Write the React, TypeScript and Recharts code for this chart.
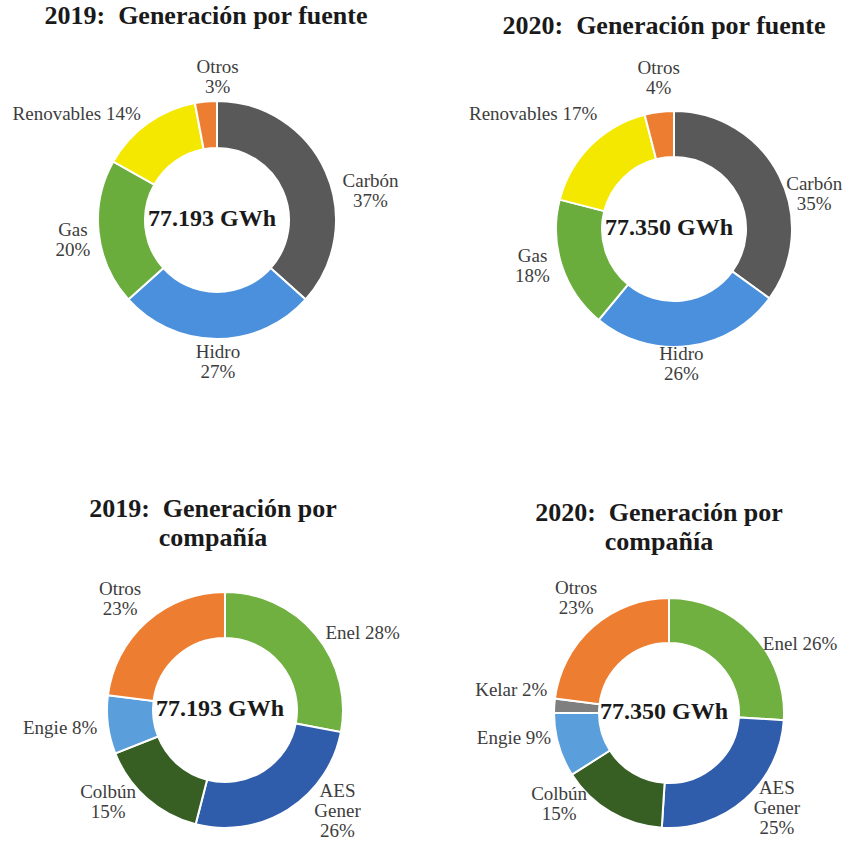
import React from "react";
import { PieChart, Pie, Cell } from "recharts";

// Generación por fuente
const fuenteNames = ["Carbón", "Hidro", "Gas", "Renovables", "Otros"];
const fuente2019 = [37, 27, 20, 14, 3];
const fuente2020 = [35, 26, 18, 17, 4];
const fuenteColors = ["#595959", "#4a90dc", "#6aad3d", "#f4e800", "#ed7d31"];

// Generación por compañía
const comp2019Names = ["Enel", "AES Gener", "Colbún", "Engie", "Otros"];
const comp2019 = [28, 26, 15, 8, 23];
const comp2019Colors = ["#6fb040", "#2f5dab", "#375e23", "#5a9fdc", "#ed7d31"];

const comp2020Names = ["Enel", "AES Gener", "Colbún", "Engie", "Kelar", "Otros"];
const comp2020 = [26, 25, 15, 9, 2, 23];
const comp2020Colors = ["#6fb040", "#2f5dab", "#375e23", "#5a9fdc", "#7f7f7f", "#ed7d31"];

const totals = ["77.193 GWh", "77.350 GWh"];

const SERIF = "'Liberation Serif', 'Times New Roman', serif";
const RADIAN = Math.PI / 180;

type LabelLayout = { stack: boolean; dx: number; dy: number };

// label layout: stacked or inline text, nudge from the default spot
const makeLabel = (names: string[], layout: LabelLayout[], gap: number) => (props: any) => {
  const { cx, cy, midAngle, outerRadius, index, value } = props;
  const r = outerRadius + gap;
  const lay = layout[index];
  const x = cx + r * Math.cos(-midAngle * RADIAN) + lay.dx;
  const y = cy + r * Math.sin(-midAngle * RADIAN) + lay.dy - 5;
  const lines = lay.stack
    ? [...names[index].split(" "), `${value}%`]
    : [`${names[index]} ${value}%`];
  const lh = 20;
  const top = y - ((lines.length - 1) * lh) / 2;
  return (
    <text
      x={x}
      y={top}
      textAnchor="middle"
      dominantBaseline="central"
      fontFamily={SERIF}
      fontSize={19}
      fill="#3d3d3d"
    >
      {lines.map((l, i) => (
        <tspan key={i} x={x} y={top + i * lh}>
          {l}
        </tspan>
      ))}
    </text>
  );
};

interface DonutProps {
  title: string[];
  titleY: number;
  titleX: number;
  names: string[];
  values: number[];
  colors: string[];
  total: string;
  cx: number;
  cy: number;
  outer: number;
  inner: number;
  layout: LabelLayout[];
  left: number;
  top: number;
  height: number;
}

const Donut: React.FC<DonutProps> = (p) => {
  const data = p.names.map((n, i) => ({ name: n, value: p.values[i] }));
  return (
    <div style={{ position: "absolute", left: p.left, top: p.top, width: 424, height: p.height }}>
      <div
        style={{
          position: "absolute",
          left: p.titleX - 212,
          top: p.titleY,
          width: 424,
          textAlign: "center",
          fontFamily: SERIF,
          fontWeight: "bold",
          fontSize: 26,
          lineHeight: "29px",
          color: "#1a1a1a",
          whiteSpace: "pre",
        }}
      >
        {p.title.map((t, i) => (
          <div key={i}>{t}</div>
        ))}
      </div>
      <PieChart width={424} height={p.height} style={{ position: "absolute", left: 0, top: 0 }}>
        <Pie
          data={data}
          dataKey="value"
          cx={p.cx}
          cy={p.cy}
          innerRadius={p.inner}
          outerRadius={p.outer}
          startAngle={90}
          endAngle={-270}
          stroke="#ffffff"
          strokeWidth={2}
          labelLine={false}
          label={makeLabel(p.names, p.layout, 36)}
          isAnimationActive={false}
        >
          {data.map((d, i) => (
            <Cell key={d.name} fill={p.colors[i]} />
          ))}
        </Pie>
      </PieChart>
      {/* total in the hole */}
      <div
        style={{
          position: "absolute",
          left: p.cx - 100,
          top: p.cy - 12,
          width: 200,
          lineHeight: "30px",
          textAlign: "center",
          fontFamily: SERIF,
          fontWeight: "bold",
          fontSize: 24,
          color: "#1a1a1a",
          pointerEvents: "none",
        }}
      >
        {p.total}
      </div>
    </div>
  );
};

const App: React.FC = () => {
  return (
    <div
      style={{
        position: "absolute",
        left: 0,
        top: 0,
        width: 848,
        height: 844,
        background: "#ffffff",
        overflow: "hidden",
      }}
    >
      <Donut
        title={["2019:  Generación por fuente"]}
        titleX={206}
        titleY={1}
        names={fuenteNames}
        values={fuente2019}
        colors={fuenteColors}
        total={totals[0]}
        cx={212}
        cy={215}
        outer={119}
        inner={72}
        left={0}
        top={0}
        height={440}
        layout={[
          { stack: true, dx: 12, dy: 38 },
          { stack: true, dx: 1, dy: -9 },
          { stack: true, dx: 10, dy: 7 },
          { stack: false, dx: -50, dy: 24 },
          { stack: true, dx: 15, dy: 15 },
        ]}
      />
      <Donut
        title={["2020:  Generación por fuente"]}
        titleX={240}
        titleY={11}
        names={fuenteNames}
        values={fuente2020}
        colors={fuenteColors}
        total={totals[1]}
        cx={245}
        cy={224}
        outer={118}
        inner={72}
        left={424}
        top={0}
        height={440}
        layout={[
          { stack: true, dx: 3, dy: 39 },
          { stack: true, dx: -12, dy: -14 },
          { stack: true, dx: 5, dy: -7 },
          { stack: false, dx: -32, dy: -2 },
          { stack: true, dx: 4, dy: 6 },
        ]}
      />
      <Donut
        title={["2019:  Generación por", "compañía"]}
        titleX={213}
        titleY={54}
        names={comp2019Names}
        values={comp2019}
        colors={comp2019Colors}
        total={totals[0]}
        cx={220}
        cy={265}
        outer={118}
        inner={72}
        left={0}
        top={440}
        height={404}
        layout={[
          { stack: false, dx: 19, dy: 25 },
          { stack: true, dx: 30, dy: -25 },
          { stack: true, dx: -15, dy: -20 },
          { stack: false, dx: -12, dy: 3 },
          { stack: true, dx: -3, dy: 9 },
        ]}
      />
      <Donut
        title={["2020:  Generación por", "compañía"]}
        titleX={235}
        titleY={58}
        names={comp2020Names}
        values={comp2020}
        colors={comp2020Colors}
        total={totals[1]}
        cx={240}
        cy={268}
        outer={115}
        inner={70}
        left={424}
        top={440}
        height={404}
        layout={[
          { stack: false, dx: 21, dy: 38 },
          { stack: true, dx: 8, dy: -14 },
          { stack: true, dx: -33, dy: -35 },
          { stack: false, dx: -10, dy: -13 },
          { stack: false, dx: -7, dy: -10 },
          { stack: true, dx: 7, dy: 2 },
        ]}
      />
    </div>
  );
};

export default App;
